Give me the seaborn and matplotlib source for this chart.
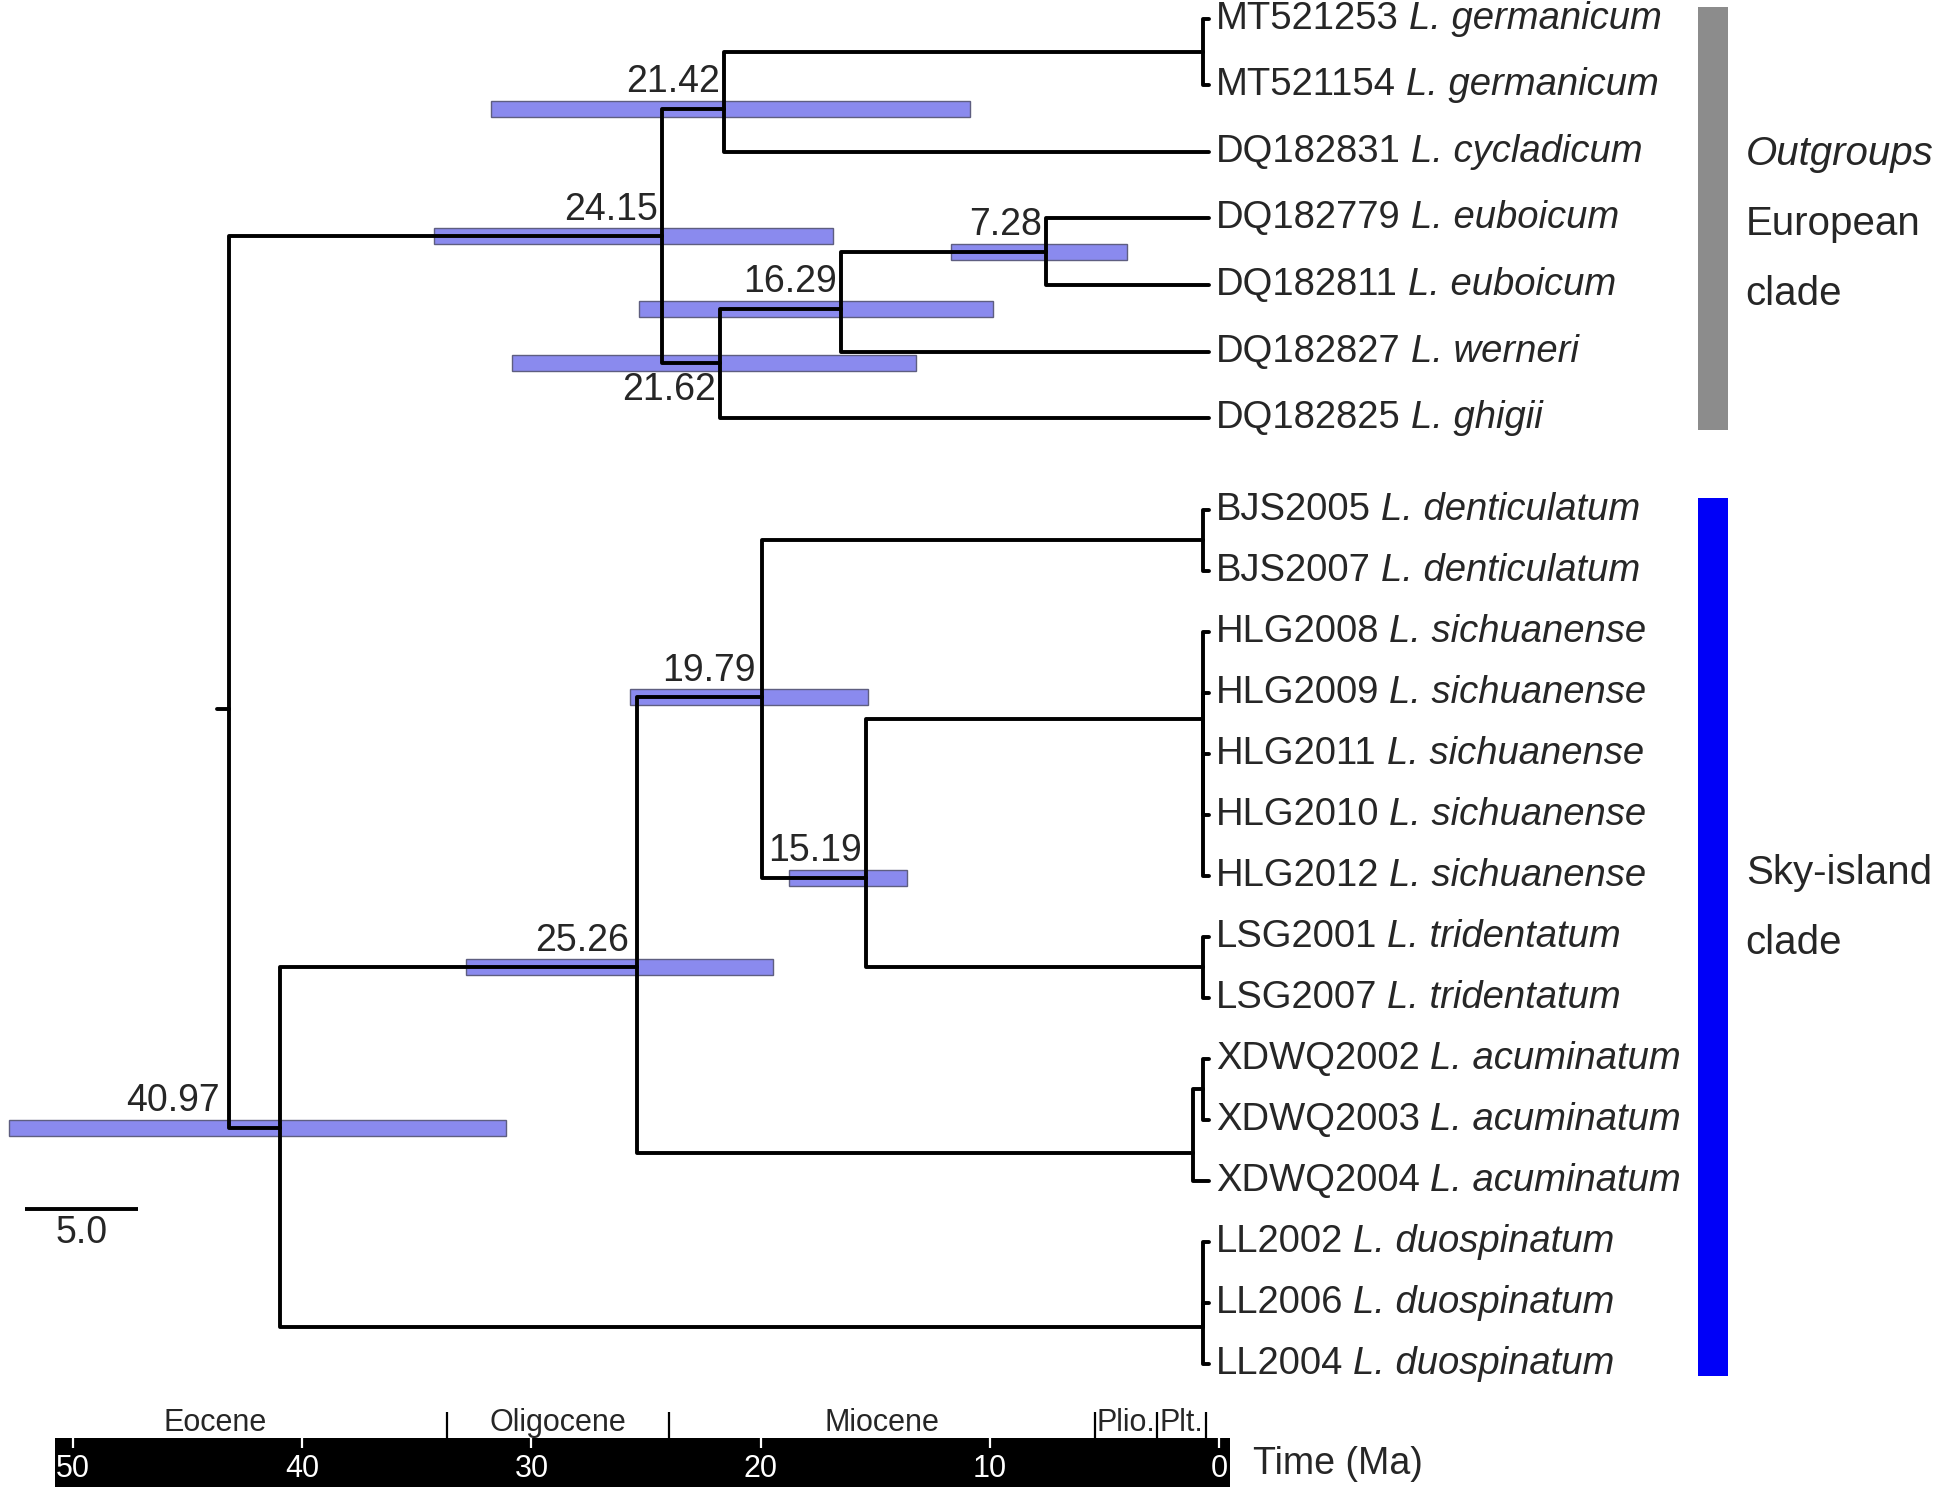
import numpy as np
import pandas as pd
import matplotlib
matplotlib.use("Agg")
import matplotlib.pyplot as plt
from matplotlib.patches import Rectangle
import seaborn as sns

# ---------------- data ----------------
accessions = ['MT521253', 'MT521154', 'DQ182831', 'DQ182779', 'DQ182811', 'DQ182827', 'DQ182825',
              'BJS2005', 'BJS2007', 'HLG2008', 'HLG2009', 'HLG2011', 'HLG2010', 'HLG2012',
              'LSG2001', 'LSG2007', 'XDWQ2002', 'XDWQ2003', 'XDWQ2004', 'LL2002', 'LL2006', 'LL2004']
species = ['L. germanicum', 'L. germanicum', 'L. cycladicum', 'L. euboicum', 'L. euboicum', 'L. werneri',
           'L. ghigii', 'L. denticulatum', 'L. denticulatum', 'L. sichuanense', 'L. sichuanense',
           'L. sichuanense', 'L. sichuanense', 'L. sichuanense', 'L. tridentatum', 'L. tridentatum',
           'L. acuminatum', 'L. acuminatum', 'L. acuminatum', 'L. duospinatum', 'L. duospinatum',
           'L. duospinatum']

# internal nodes: name, age (Ma), children (node names or accessions)
node_names = ['root', 'n24.15', 'n21.42', 'g_germ', 'n21.62', 'n16.29', 'n7.28',
              'n40.97', 'n25.26', 'n19.79', 'g_dent', 'n15.19', 'g_sich', 'g_trid',
              'g_acum', 'g_acum2', 'g_duo']
node_ages = [43.2, 24.15, 21.42, 0.37, 21.62, 16.29, 7.28,
             40.97, 25.26, 19.79, 0.37, 15.19, 0.37, 0.37,
             0.81, 0.37, 0.37]
node_children = [
    ['n24.15', 'n40.97'],
    ['n21.42', 'n21.62'],
    ['g_germ', 'DQ182831'],
    ['MT521253', 'MT521154'],
    ['n16.29', 'DQ182825'],
    ['n7.28', 'DQ182827'],
    ['DQ182779', 'DQ182811'],
    ['n25.26', 'g_duo'],
    ['n19.79', 'g_acum'],
    ['g_dent', 'n15.19'],
    ['BJS2005', 'BJS2007'],
    ['g_sich', 'g_trid'],
    ['HLG2008', 'HLG2009', 'HLG2011', 'HLG2010', 'HLG2012'],
    ['LSG2001', 'LSG2007'],
    ['g_acum2', 'XDWQ2004'],
    ['XDWQ2002', 'XDWQ2003'],
    ['LL2002', 'LL2006', 'LL2004'],
]

# 95% HPD intervals of the labelled nodes
hpd_nodes = ['n21.42', 'n24.15', 'n7.28', 'n16.29', 'n21.62', 'n19.79', 'n15.19', 'n25.26', 'n40.97']
hpd_old = [31.68, 34.19, 11.45, 25.19, 30.75, 25.57, 18.59, 32.77, 52.89]
hpd_young = [10.63, 16.63, 3.71, 9.60, 12.98, 15.10, 13.41, 19.30, 31.02]

clade_first_tip = ['MT521253', 'BJS2005']
clade_last_tip = ['DQ182825', 'LL2004']
clade_label_lines = [['Outgroups', 'European', 'clade'], ['Sky-island', 'clade']]
clade_label_italic = [[True, False, False], [False, False]]

epoch_names = ['Eocene', 'Oligocene', 'Miocene', 'Plio.', 'Plt.']
epoch_old = [53.9, 33.7, 24.0, 5.4, 2.7]
epoch_young = [33.7, 24.0, 5.4, 2.7, 0.55]
time_ticks = [50, 40, 30, 20, 10, 0]
scale_bar_length = 5.0

# ---------------- layout / style ----------------
W, H, DPI = 1944, 1488, 100
TIP_END = 0.1
ROOT_STEM = 0.55
N_UPPER = 7
UPPER_TOP, UPPER_STEP = 18.6, 66.6
LOWER_TOP, LOWER_STEP = 509.6, 61.0
LW = 2.8
BAR_H = 16
BAR_COLOR = '#8a8aee'
BAR_EDGE = '#5e5e80'
CLADE_COLORS = ['#8c8c8c', '#0000f8']
FS_TIP = 27.5
FS_NODE = 27
FS_CLADE = 29

# manual vertical nudges of node positions (drawing layout, as in the figure)
NODE_Y_NUDGE = {'n21.42': 7, 'n16.29': 7, 'g_sich': -35, 'n15.19': 35, 'n19.79': -12,
                'g_acum': 18, 'n25.26': 42, 'g_duo': 24, 'n40.97': -19, 'root': 27}

label_dx = [-3, -3, -3, -3, -3, -4, -3, -6, -43]
label_dy = [19, 19, 19, 19, -19, 19, 19, 19, 19]

# tip rows
tip_y = {}
for i, acc in enumerate(accessions):
    if i < N_UPPER:
        tip_y[acc] = UPPER_TOP + i * UPPER_STEP
    else:
        tip_y[acc] = LOWER_TOP + (i - N_UPPER) * LOWER_STEP

children = dict(zip(node_names, node_children))
age = dict(zip(node_names, node_ages))
ypos = dict(tip_y)


def place(n):
    if n in ypos:
        return ypos[n]
    ys = [place(c) for c in children[n]]
    ypos[n] = (ys[0] + ys[-1]) / 2 + NODE_Y_NUDGE.get(n, 0)
    return ypos[n]


place('root')

rows = []
seg = 0
for n in node_names:
    for c in children[n]:
        cage = age.get(c, TIP_END)
        for x, y in [(age[n], ypos[n]), (age[n], ypos[c]), (cage, ypos[c])]:
            rows.append((seg, x, y))
        seg += 1
rows.append((seg, age['root'] + ROOT_STEM, ypos['root']))
rows.append((seg, age['root'], ypos['root']))
tree_df = pd.DataFrame(rows, columns=['seg', 'age', 'y'])

# ---------------- figure ----------------
sns.set_theme(style='white')
plt.rcParams['font.family'] = ['Liberation Sans', 'DejaVu Sans']

fig = plt.figure(figsize=(W / DPI, H / DPI), dpi=DPI)
fig.patch.set_facecolor('white')
ax = fig.add_axes([0, 0, 1, 1])

# HPD bars
hy = [ypos[n] for n in hpd_nodes]
ax.barh(hy, np.array(hpd_young) - np.array(hpd_old), left=hpd_old, height=BAR_H,
        color=BAR_COLOR, edgecolor=BAR_EDGE, linewidth=1.0, zorder=1)

# tree branches
sns.lineplot(data=tree_df, x='age', y='y', units='seg', estimator=None, sort=False,
             color='black', linewidth=LW, ax=ax, legend=False, zorder=3)

# node age labels
for n, dx, dy in zip(hpd_nodes, label_dx, label_dy):
    ax.annotate(f"{age[n]:.2f}", xy=(age[n], ypos[n]), xytext=(dx, dy),
                textcoords='offset points', ha='right', va='center',
                fontsize=FS_NODE, zorder=5)

# tip labels
for acc, sp in zip(accessions, species):
    t = ax.annotate(acc, xy=(TIP_END, tip_y[acc]), xytext=(5, 0), textcoords='offset points',
                    ha='left', va='center', fontsize=FS_TIP)
    ax.annotate(sp, xy=(1, 0), xycoords=t, xytext=(7, 0), textcoords='offset points',
                ha='left', va='bottom', fontsize=FS_TIP, style='italic')

# clade bars and labels
ytrans = ax.get_yaxis_transform()
for first, last, col, lines, ital in zip(clade_first_tip, clade_last_tip, CLADE_COLORS,
                                         clade_label_lines, clade_label_italic):
    y0 = tip_y[first] - 12
    y1 = tip_y[last] + 12
    ax.add_patch(Rectangle((0.8737, y0), 0.0152, y1 - y0, transform=ytrans,
                           facecolor=col, edgecolor='none', zorder=2))
    yc = (tip_y[first] + tip_y[last]) / 2
    for k, (line, it) in enumerate(zip(lines, ital)):
        ax.text(0.898, yc - 64 + 70 * k, line, transform=ytrans, ha='left', va='center',
                fontsize=FS_CLADE, style='italic' if it else 'normal')

# scale bar
sb_left, sb_y = 52.2, 1209
ax.plot([sb_left, sb_left - scale_bar_length], [sb_y, sb_y], color='black', lw=LW,
        solid_capstyle='butt')
ax.text(sb_left - scale_bar_length / 2, sb_y + 24, f"{scale_bar_length:.1f}",
        ha='center', va='center', fontsize=FS_NODE)

ax.set_xlim(53.28, -32.21)
ax.set_ylim(H, 0)
ax.set_axis_off()

# ---------------- geological time bar ----------------
tax = fig.add_axes([55 / W, 1 / H, 1175 / W, 49 / H])
tax.set_xlim(50.79, -0.48)
tax.set_ylim(0, 1)
tax.set_facecolor('black')
for s in tax.spines.values():
    s.set_visible(False)
tax.set_yticks([])
tax.set_xticks(time_ticks)
tax.set_xticklabels([str(t) for t in time_ticks])
tax.tick_params(axis='x', top=True, bottom=False, direction='in', length=7, width=1.6,
                color='white', labelbottom=True, labeltop=False, labelcolor='white',
                labelsize=22, pad=-24)
for lbl in tax.get_xticklabels():
    lbl.set_fontfamily(['Liberation Sans Narrow', 'Liberation Sans', 'DejaVu Sans'])
tax.grid(False)

xtrans = tax.get_xaxis_transform()
tax.vlines(epoch_young, 1.0, 1.53, transform=xtrans, colors='black', lw=1.6, clip_on=False)
for name, o, y in zip(epoch_names, epoch_old, epoch_young):
    tax.text((o + y) / 2, 1.31, name, transform=xtrans, ha='center', va='center',
             fontsize=22, clip_on=False)

fig.text(1253 / W, 1 - 1464 / H, 'Time (Ma)', ha='left', va='center', fontsize=27)

fig.savefig('out.png', dpi=DPI)
